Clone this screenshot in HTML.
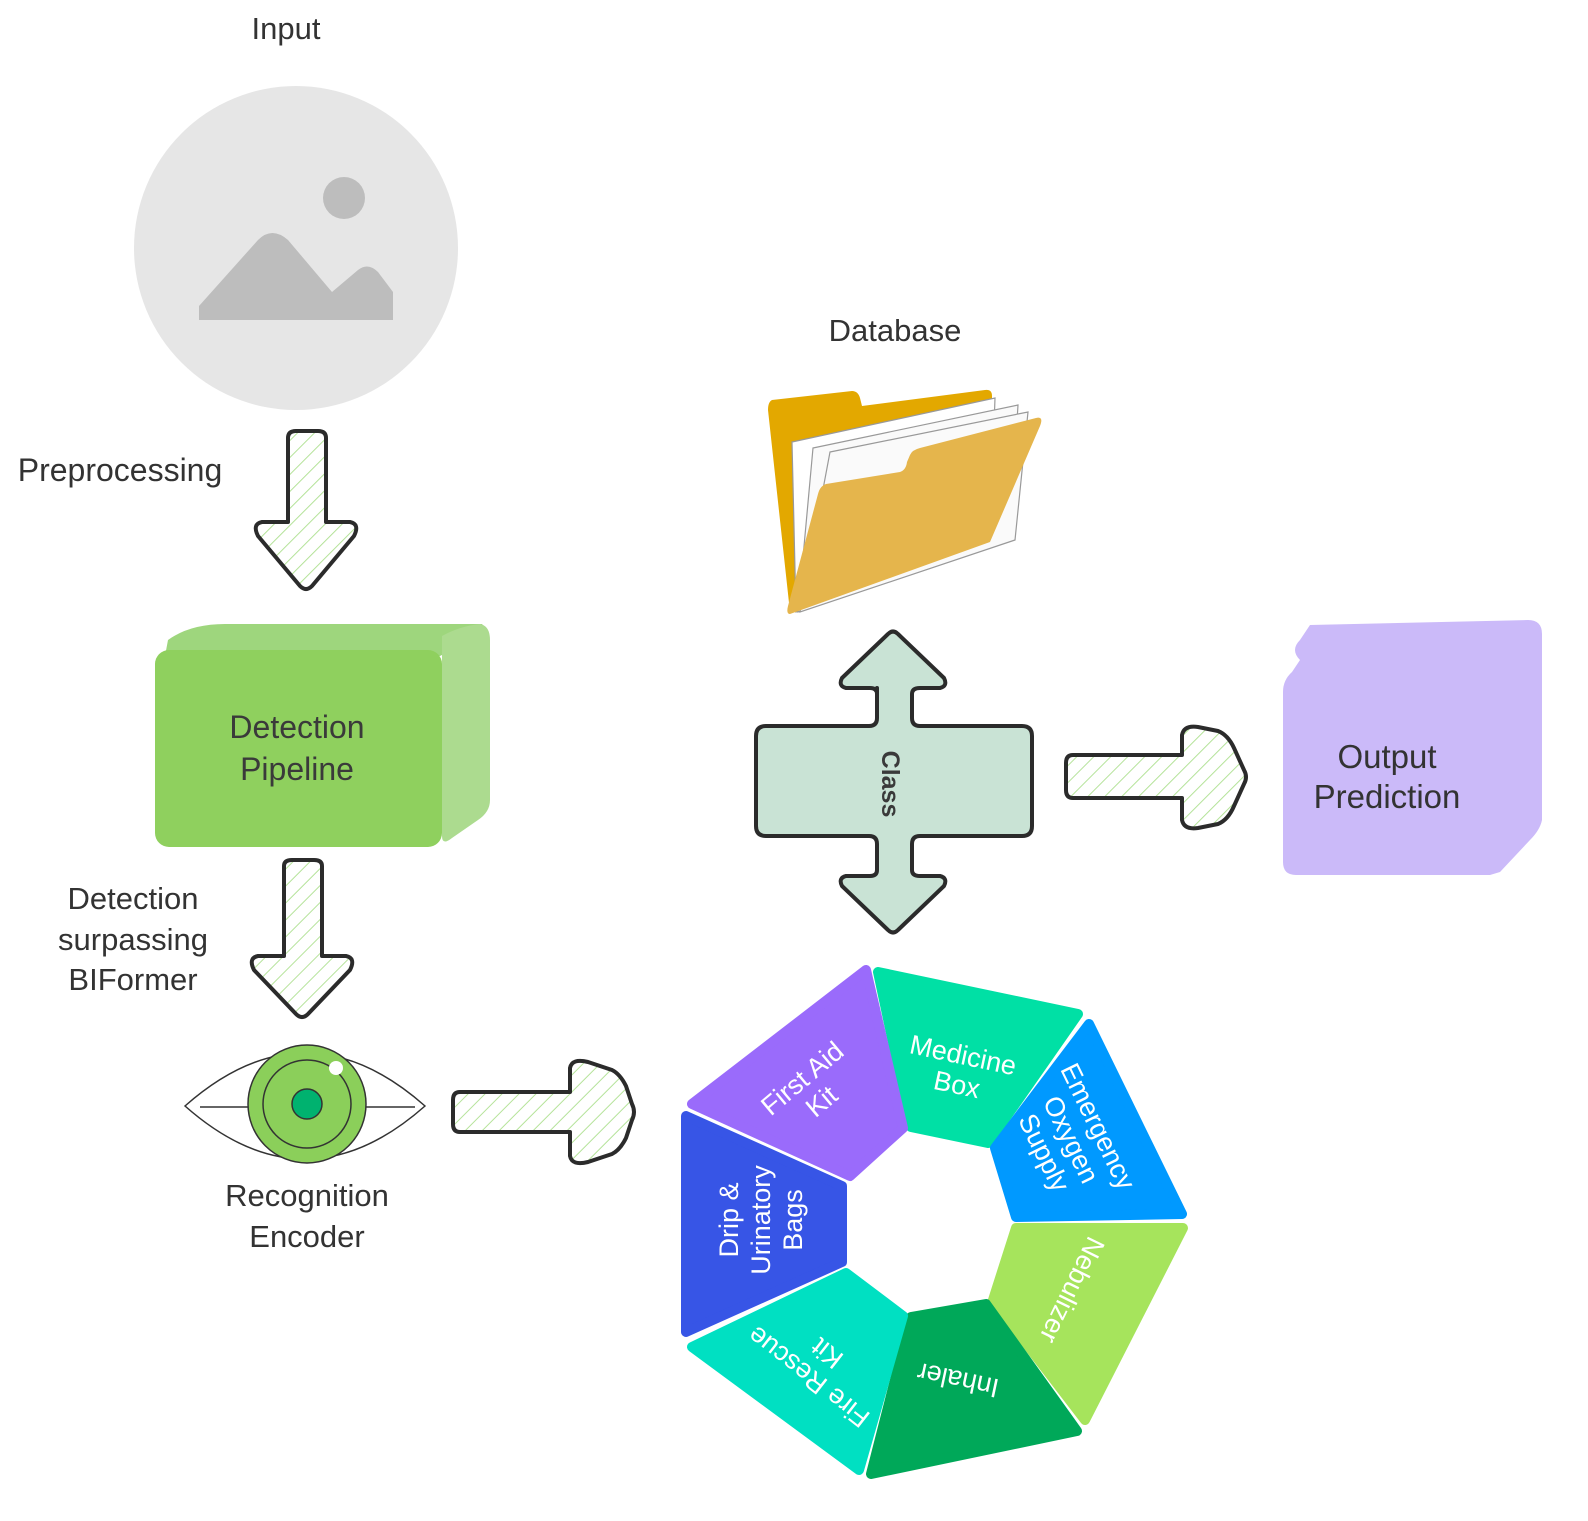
<!DOCTYPE html>
<html><head><meta charset="utf-8"><style>html,body{margin:0;padding:0;background:#fff}svg{display:block}</style></head>
<body>
<svg width="1588" height="1521" viewBox="0 0 1588 1521" xmlns="http://www.w3.org/2000/svg" font-family="Liberation Sans, sans-serif">
<defs>
<pattern id="h" patternUnits="userSpaceOnUse" width="12" height="12" patternTransform="rotate(45)">
<rect width="12" height="12" fill="#fff"/><line x1="0" y1="0" x2="0" y2="12" stroke="#b5e39a" stroke-width="2"/>
</pattern>
</defs>
<!-- Input -->
<text x="286" y="39" font-size="31" fill="#333" text-anchor="middle">Input</text>
<circle cx="296" cy="248" r="162" fill="#e6e6e6"/>
<circle cx="344" cy="198" r="21" fill="#bdbdbd"/>
<path d="M199 306 L258 240 Q272 226 288 240 L332 292 L358 270 Q368 262 378 272 L393 292 L393 320 L199 320 Z" fill="#bdbdbd"/>
<text x="120" y="481" font-size="32" fill="#333" text-anchor="middle">Preprocessing</text>
<!-- down arrow 1 -->
<path d="M288 438 Q288 431 296 431 L318 431 Q326 431 326 438 L326 522 L350 522 Q360 524 354 536 L312 586 Q306 592 300 586 L258 536 Q252 524 262 522 L288 522 Z" fill="url(#h)" stroke="#2b2b2b" stroke-width="4" stroke-linejoin="round"/>
<!-- Detection pipeline box -->
<path d="M168 640 Q190 624 225 624 L482 624 Q488 630 470 640 L440 656 L165 656 Z" fill="#9ed67d"/>
<path d="M442 636 Q460 626 480 624 Q490 626 490 640 L490 800 Q490 812 478 820 L452 838 Q442 846 442 836 Z" fill="#acdb8f"/>
<rect x="155" y="650" width="287" height="197" rx="14" fill="#8fd05e"/>
<text x="297" y="738" font-size="32" fill="#3a3a3a" text-anchor="middle">Detection</text>
<text x="297" y="780" font-size="32" fill="#3a3a3a" text-anchor="middle">Pipeline</text>
<text x="133" y="909" font-size="31" fill="#333" text-anchor="middle">Detection</text>
<text x="133" y="950" font-size="31" fill="#333" text-anchor="middle">surpassing</text>
<text x="133" y="990" font-size="31" fill="#333" text-anchor="middle">BIFormer</text>
<!-- down arrow 2 -->
<path d="M284 866 Q284 860 292 860 L314 860 Q322 860 322 866 L322 956 L346 956 Q356 958 350 970 L308 1014 Q302 1020 296 1014 L254 970 Q248 958 258 956 L284 956 Z" fill="url(#h)" stroke="#2b2b2b" stroke-width="4" stroke-linejoin="round"/>
<!-- eye -->
<path d="M185 1106 Q305 1000 425 1106 Q305 1212 185 1106 Z" fill="#fff" stroke="#333" stroke-width="1.5"/>
<line x1="200" y1="1107" x2="262" y2="1107" stroke="#333" stroke-width="1.5"/>
<line x1="350" y1="1107" x2="415" y2="1107" stroke="#333" stroke-width="1.5"/>
<circle cx="307" cy="1104" r="59" fill="#8bcf5a" stroke="#333" stroke-width="1.5"/>
<circle cx="307" cy="1104" r="44" fill="none" stroke="#333" stroke-width="1.5"/>
<circle cx="307" cy="1104" r="15" fill="#00b26f" stroke="#333" stroke-width="1.5"/>
<circle cx="336" cy="1068" r="7" fill="#fff"/>
<text x="307" y="1206" font-size="31" fill="#333" text-anchor="middle">Recognition</text>
<text x="307" y="1247" font-size="31" fill="#333" text-anchor="middle">Encoder</text>
<!-- right arrow 1 -->
<path d="M460 1092 L570 1092 L570 1068 Q572 1058 588 1062 L612 1070 Q620 1074 626 1086 L632 1104 Q636 1112 632 1120 L626 1138 Q620 1150 612 1154 L588 1162 Q572 1166 570 1156 L570 1132 L460 1132 Q453 1132 453 1124 L453 1100 Q453 1092 460 1092 Z" fill="url(#h)" stroke="#2b2b2b" stroke-width="4" stroke-linejoin="round"/>
<!-- right arrow 2 -->
<path d="M1073 755 L1182 755 L1182 735 Q1184 725 1198 727 L1218 731 Q1228 735 1234 748 L1244 770 Q1248 777 1244 784 L1234 806 Q1228 820 1218 824 L1198 828 Q1184 830 1182 820 L1182 798 L1073 798 Q1066 798 1066 790 L1066 763 Q1066 755 1073 755 Z" fill="url(#h)" stroke="#2b2b2b" stroke-width="4" stroke-linejoin="round"/>
<!-- Database -->
<text x="895" y="341" font-size="31" fill="#333" text-anchor="middle">Database</text>
<path d="M772 400 L852 391 Q858 391 860 398 L862 406 L985 390 Q992 389 992 396 L992 440 L800 612 L790 612 L768 410 Q768 402 772 400 Z" fill="#e3a800"/>
<path d="M792 442 L995 398 L990 540 L796 612 Z" fill="#fff" stroke="#999" stroke-width="1.2"/>
<path d="M813 448 L1018 405 L1010 535 L798 612 Z" fill="#fafafa" stroke="#999" stroke-width="1.2"/>
<path d="M830 452 L1028 412 L1015 540 L800 612 Z" fill="#fafafa" stroke="#999" stroke-width="1.2"/>
<path d="M826 484 L900 472 Q906 470 907 462 L910 455 Q912 450 920 448 L1036 418 Q1044 416 1040 426 L990 542 L790 614 Q786 614 788 606 L818 494 Q820 486 826 484 Z" fill="#e5b54c"/>
<!-- Class cross -->
<path d="M877 688 L877 718 Q877 726 869 726 L766 726 Q756 726 756 736 L756 826 Q756 836 766 836 L869 836 Q877 836 877 844 L877 870 Q877 876 870 876 L846 876 Q838 878 842 886 L888 930 Q893 935 898 930 L944 886 Q948 878 940 876 L920 876 Q912 876 912 870 L912 844 Q912 836 920 836 L1022 836 Q1032 836 1032 826 L1032 736 Q1032 726 1022 726 L920 726 Q912 726 912 718 L912 694 Q912 688 920 688 L940 688 Q948 686 944 678 L898 634 Q893 629 888 634 L842 678 Q838 686 846 688 L870 688 Q877 688 877 694 Z" fill="#c9e3d5" stroke="#2b2b2b" stroke-width="4" stroke-linejoin="round"/>
<text transform="translate(882,784) rotate(90)" font-size="25" font-weight="bold" fill="#3a3a3a" text-anchor="middle">Class</text>
<!-- Output prediction -->
<path d="M1310 625 L1528 620 Q1542 620 1542 634 L1542 820 Q1540 830 1530 840 L1500 872 L1490 875 L1296 875 Q1283 875 1283 862 L1283 692 Q1283 680 1292 672 L1300 660 Q1290 650 1300 640 Z" fill="#cbbaf9"/>
<text x="1387" y="768" font-size="33" fill="#333" text-anchor="middle">Output</text>
<text x="1387" y="808" font-size="33" fill="#333" text-anchor="middle">Prediction</text>
<!-- wheel -->
<g stroke-width="10" stroke-linejoin="round">
<path d="M878 972 L1078 1014 L988 1143 L911 1127 Z" fill="#00e0a5" stroke="#00e0a5"/>
<path d="M1089 1024 L1182 1214 L1016 1217 L995 1148 Z" fill="#0099ff" stroke="#0099ff"/>
<path d="M1183 1228 L1085 1420 L993 1300 L1016 1228 Z" fill="#a6e45c" stroke="#a6e45c"/>
<path d="M1077 1431 L871 1474 L911 1317 L986 1304 Z" fill="#00a859" stroke="#00a859"/>
<path d="M859 1470 L692 1347 L846 1273 L903 1316 Z" fill="#00e0c2" stroke="#00e0c2"/>
<path d="M686 1332 L686 1116 L842 1186 L842 1262 Z" fill="#3755e6" stroke="#3755e6"/>
<path d="M692 1104 L866 970 L903 1128 L850 1176 Z" fill="#9a6bfb" stroke="#9a6bfb"/>
</g>
<g fill="#fff" font-size="27" text-anchor="middle">
<g transform="translate(960,1070) rotate(12)"><text y="-6">Medicine</text><text y="24">Box</text></g>
<g transform="translate(812,1090) rotate(-40)"><text y="-6">First Aid</text><text y="24">Kit</text></g>
<g transform="translate(1070,1140) rotate(64)"><text y="-22">Emergency</text><text y="8">Oxygen</text><text y="38">Supply</text></g>
<g transform="translate(1072,1290) rotate(116)"><text y="9">Nebulizer</text></g>
<g transform="translate(958,1380) rotate(192)"><text y="9">Inhaler</text></g>
<g transform="translate(818,1365) rotate(-142)"><text y="-6">Fire Rescue</text><text y="24">Kit</text></g>
<g transform="translate(762,1220) rotate(-90)"><text y="-24">Drip &amp;</text><text y="8">Urinatory</text><text y="40">Bags</text></g>
</g>
</svg>
</body></html>
